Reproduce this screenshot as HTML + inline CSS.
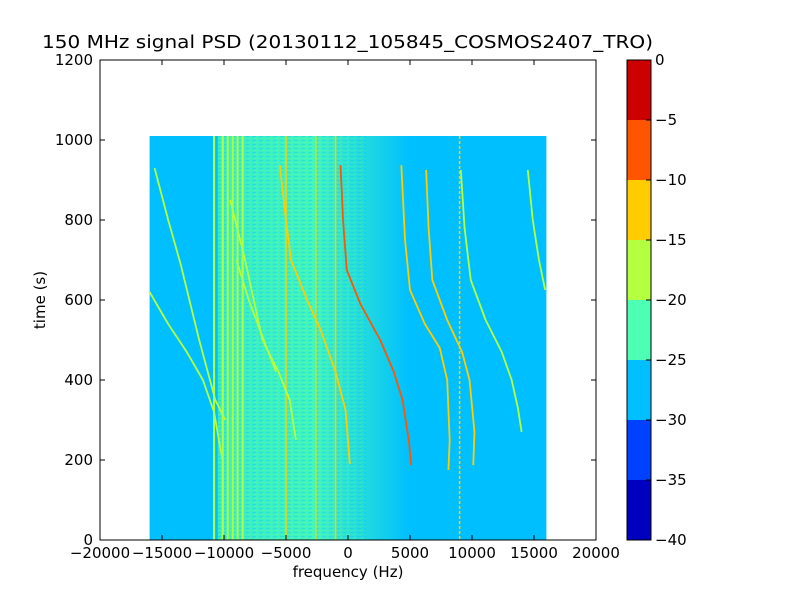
<!DOCTYPE html>
<html><head><meta charset="utf-8"><style>
body{margin:0;background:#fff;}
svg{display:block;font-family:"DejaVu Sans","Liberation Sans",sans-serif;}
</style></head><body>
<svg id="chart" width="800" height="600" viewBox="0 0 800 600">
<defs>
<linearGradient id="noise" x1="0" x2="1" y1="0" y2="0">
<stop offset="0" stop-color="#4dffb3" stop-opacity="0.7"/>
<stop offset="0.5" stop-color="#4dffb3" stop-opacity="0.85"/>
<stop offset="0.75" stop-color="#4dffb3" stop-opacity="0.45"/>
<stop offset="1" stop-color="#4dffb3" stop-opacity="0"/>
</linearGradient>
<pattern id="stripes" width="7" height="4" patternUnits="userSpaceOnUse">
<rect x="0" y="0" width="4" height="1" fill="#00bfff" opacity="0.35"/>
<rect x="3" y="2" width="3" height="1" fill="#b3ff40" opacity="0.2"/>
</pattern>
</defs>
<text x="42" y="48" font-size="18" textLength="611" lengthAdjust="spacingAndGlyphs">150 MHz signal PSD (20130112_105845_COSMOS2407_TRO)</text>
<g id="plot"></g>
<rect x="100" y="60" width="496" height="480" fill="none" stroke="#000" stroke-width="1"/>
<g id="axes"></g>
<text x="348" y="577" font-size="15" text-anchor="middle">frequency (Hz)</text>
<text x="45" y="300" font-size="15" text-anchor="middle" transform="rotate(-90 45 300)">time (s)</text>
<g id="cbar"></g>
</svg>
<script>
const xTicks=[-20000,-15000,-10000,-5000,0,5000,10000,15000,20000];
const yTicks=[0,200,400,600,800,1000,1200];
const cbLevels=[0,-5,-10,-15,-20,-25,-30,-35,-40];
const cbColors=["#cc0000","#ff5500","#ffcc00","#b3ff40","#4dffb3","#00bfff","#0040ff","#0000c0"];
const dataExtent=[-16000,16000,0,1010];
const vLines=[-10800,-10100,-9700,-9300,-8900,-8500,-5000,-2600,-1000,9000];
const track1=[[-16000,620],[-14500,540],[-13000,470],[-11700,400],[-10800,320],[-10300,230],[-10100,200]];
const track2=[[-15600,930],[-14500,800],[-13500,690],[-12000,500],[-10700,350],[-9900,300]];
const track3=[[-9500,850],[-8300,700],[-6900,500],[-5600,420],[-4700,350],[-4200,250]];
const track4=[[-5500,937],[-5000,800],[-4600,700],[-3300,600],[-2200,525],[-1000,420],[-200,325],[150,190]];
const track5=[[-600,937],[-400,800],[-100,675],[1000,590],[2600,500],[3700,420],[4400,350],[4900,250],[5100,187]];
const track6=[[4300,937],[4600,750],[5000,625],[6200,540],[7400,480],[8000,400],[8200,250],[8100,175]];
const track7=[[6300,925],[6500,780],[6800,650],[8000,550],[9200,470],[9800,400],[10200,270],[10100,187]];
const track8=[[9100,925],[9400,780],[9900,650],[11100,550],[12400,470],[13200,400],[13700,330],[14000,270]];
const track9=[[14500,925],[14900,800],[15400,700],[15900,625]];
const track10=[[-9000,700],[-8000,600],[-6800,500],[-5800,420]];
const tracks=[track1,track2,track3,track4,track5,track6,track7,track8,track9,track10];
const trackColors=["#b3ff40","#b3ff40","#b3ff40","#ffcc00","#ff5500","#ffcc00","#ffcc00","#b3ff40","#b3ff40","#b3ff40"];

const X0=100,X1=596,Y0=540,Y1=60;
const sx=f=>X0+(f+20000)/40000*(X1-X0);
const sy=t=>Y0-(t/1200)*(Y0-Y1);
const NS="http://www.w3.org/2000/svg";
function mk(tag,attrs,parent){const e=document.createElementNS(NS,tag);for(const k in attrs)e.setAttribute(k,attrs[k]);parent.appendChild(e);return e;}
const plot=document.getElementById('plot');
const bg=mk('rect',{x:sx(dataExtent[0]),y:sy(dataExtent[3]),width:sx(dataExtent[1])-sx(dataExtent[0]),height:sy(dataExtent[2])-sy(dataExtent[3]),fill:"#00bfff"},plot);


const nz=mk('rect',{x:sx(-10500),y:sy(dataExtent[3]),width:sx(5000)-sx(-10500),height:sy(0)-sy(dataExtent[3]),fill:"url(#noise)"},plot);


const nz2=mk('rect',{x:sx(-10500),y:sy(dataExtent[3]),width:sx(1500)-sx(-10500),height:sy(0)-sy(dataExtent[3]),fill:"url(#stripes)"},plot);


vLines.forEach((f,i)=>{const l=mk('line',{x1:sx(f),x2:sx(f),y1:sy(dataExtent[3]),y2:sy(0),stroke:i<6?"#b3ff40":"#ffcc00","stroke-width":i<6?2:1.5,"stroke-dasharray":f===9000?"3,2":"none"},plot);

});
tracks.forEach((tr,i)=>{const p=mk('polyline',{points:tr.map(d=>sx(d[0])+","+sy(d[1])).join(" "),fill:"none",stroke:trackColors[i],"stroke-width":1.8,"stroke-linejoin":"round"},plot);

});
const ax=document.getElementById('axes');
xTicks.forEach(v=>{const x=sx(v);mk('line',{x1:x,x2:x,y1:540,y2:535,stroke:"#000"},ax);mk('line',{x1:x,x2:x,y1:60,y2:65,stroke:"#000"},ax);
const t=mk('text',{x:x,y:558,"font-size":15,"text-anchor":"middle"},ax);t.textContent=(v<0?"\u2212"+(-v):v);

});
yTicks.forEach(v=>{const y=sy(v);mk('line',{x1:100,x2:105,y1:y,y2:y,stroke:"#000"},ax);mk('line',{x1:591,x2:596,y1:y,y2:y,stroke:"#000"},ax);
const t=mk('text',{x:93,y:y+5,"font-size":15,"text-anchor":"end"},ax);t.textContent=v;

});
const cb=document.getElementById('cbar');
const cx=627,cw=24,ct=60,cbh=480,band=cbh/cbColors.length;
cbColors.forEach((c,i)=>{const r=mk('rect',{x:cx,y:ct+i*band,width:cw,height:band,fill:c},cb);

});
mk('rect',{x:cx,y:ct,width:cw,height:cbh,fill:"none",stroke:"#000"},cb);
cbLevels.forEach((v,i)=>{const y=ct+i*band;mk('line',{x1:cx+cw-5,x2:cx+cw,y1:y,y2:y,stroke:"#000"},cb);
const t=mk('text',{x:cx+cw+4,y:y+5,"font-size":15},cb);t.textContent=(v<0?"\u2212"+(-v):v);

});
</script>
</body></html>
